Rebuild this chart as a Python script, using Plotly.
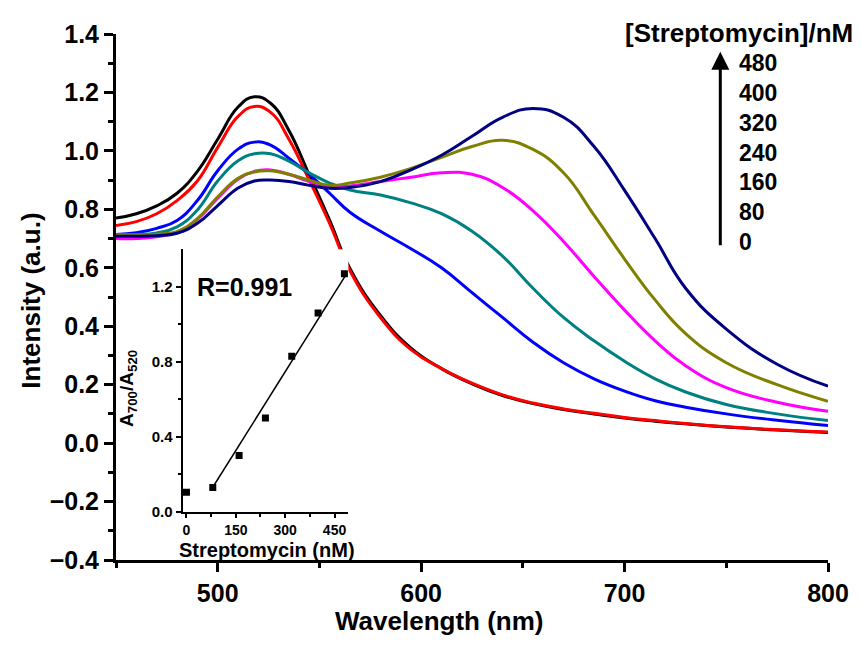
import plotly.graph_objects as go

# ---------------- data ----------------
wavelength = [450, 460, 470, 480, 490, 500, 510, 518, 526, 535, 545, 555, 565, 580,
              595, 610, 625, 640, 655, 670, 685, 700, 715, 730, 750, 775, 800]

int_0 = [0.77, 0.785, 0.812, 0.855, 0.93, 1.04, 1.15, 1.185, 1.163, 1.07, 0.918, 0.763, 0.598,
         0.437, 0.325, 0.255, 0.203, 0.163, 0.135, 0.115, 0.100, 0.086, 0.075, 0.066, 0.055,
         0.045, 0.036]
int_80 = [0.745, 0.758, 0.785, 0.83, 0.897, 1.012, 1.118, 1.152, 1.132, 1.04, 0.90, 0.752, 0.59,
          0.43, 0.32, 0.255, 0.205, 0.165, 0.137, 0.117, 0.102, 0.088, 0.077, 0.067, 0.056,
          0.046, 0.038]
int_160 = [0.714, 0.72, 0.735, 0.762, 0.83, 0.932, 1.006, 1.03, 1.02, 0.975, 0.92, 0.855, 0.79,
           0.725, 0.665, 0.60, 0.515, 0.43, 0.345, 0.275, 0.22, 0.178, 0.145, 0.123, 0.10,
           0.078, 0.06]
int_240 = [0.714, 0.714, 0.719, 0.74, 0.798, 0.897, 0.966, 0.99, 0.99, 0.965, 0.925, 0.89,
           0.866, 0.849, 0.822, 0.785, 0.725, 0.64, 0.53, 0.43, 0.35, 0.28, 0.22, 0.175, 0.132,
           0.10, 0.077]
int_320 = [0.70, 0.70, 0.706, 0.722, 0.766, 0.838, 0.903, 0.93, 0.935, 0.92, 0.895, 0.878, 0.88,
           0.895, 0.91, 0.925, 0.92, 0.875, 0.795, 0.69, 0.57, 0.455, 0.35, 0.265, 0.19, 0.14,
           0.109]
int_400 = [0.712, 0.712, 0.715, 0.724, 0.768, 0.843, 0.906, 0.928, 0.932, 0.92, 0.9, 0.882, 0.89,
           0.91, 0.94, 0.978, 1.015, 1.036, 1.005, 0.925, 0.78, 0.63, 0.49, 0.375, 0.275, 0.20,
           0.143]
int_480 = [0.708, 0.708, 0.71, 0.718, 0.752, 0.813, 0.873, 0.897, 0.90, 0.895, 0.882, 0.872,
           0.875, 0.895, 0.935, 0.985, 1.05, 1.115, 1.145, 1.115, 1.015, 0.865, 0.70, 0.53,
           0.39, 0.27, 0.195]

concentrations = [0, 80, 160, 240, 320, 400, 480]
spectra = [int_0, int_80, int_160, int_240, int_320, int_400, int_480]
colors = ["#000000", "#FF0000", "#0000FF", "#008080", "#FF00FF", "#808000", "#000080"]

# inset: A700/A520 ratio vs streptomycin, and its linear fit as drawn
ratio = [0.105, 0.13, 0.30, 0.50, 0.83, 1.06, 1.27]
fit_slope = 0.0028
fit_intercept = -0.093
fit_range = [80, 485]
r_text = "R=0.991"

FONT = "Liberation Sans, Arial, sans-serif"

fig = go.Figure()

for conc, ys, col in zip(concentrations, spectra, colors):
    fig.add_trace(go.Scatter(x=wavelength, y=ys, mode="lines",
                             line=dict(color=col, width=3, shape="spline", smoothing=1.3),
                             name=f"{conc} nM", showlegend=False,
                             xaxis="x", yaxis="y"))

line_y = [fit_slope * v + fit_intercept for v in fit_range]
fig.add_trace(go.Scatter(x=fit_range, y=line_y, mode="lines",
                         line=dict(color="black", width=1.5),
                         showlegend=False, xaxis="x2", yaxis="y2"))
fig.add_trace(go.Scatter(x=concentrations, y=ratio, mode="markers",
                         marker=dict(symbol="square", size=7, color="black"),
                         showlegend=False, xaxis="x2", yaxis="y2"))

# page offset of the figure inside the browser page
OFF_X, OFF_Y = 8, 12
W, H = 861 - OFF_X, 646 - OFF_Y
PL, PR, PT, PB = 116, 830, 29, 564   # plot area in page pixels
L, T = PL - OFF_X, PT - OFF_Y
R = 861 - PR
B = 646 - PB
PW, PH = PR - PL, PB - PT


def px_x(px):
    return (px - PL) / PW


def px_y(py):
    return (PB - py) / PH


axis_common = dict(showline=True, linecolor="black", linewidth=3, ticks="outside",
                   ticklen=9, tickwidth=3, tickcolor="black", showgrid=False,
                   zeroline=False, mirror=False,
                   tickfont=dict(family=FONT, size=25, color="black", weight="bold"))

fig.update_layout(
    width=W, height=H,
    margin=dict(l=L, r=R, t=T, b=B),
    plot_bgcolor="white", paper_bgcolor="white",
    showlegend=False,
    xaxis=dict(range=[450, 800], tick0=500, dtick=100,
               minor=dict(dtick=50, tick0=450, ticklen=5, tickwidth=3, tickcolor="black",
                          ticks="outside"),
               **axis_common),
    yaxis=dict(range=[-0.4, 1.4], tick0=-0.4, dtick=0.2, tickformat=".1f",
               minor=dict(dtick=0.1, ticklen=5, tickwidth=3, tickcolor="black",
                          ticks="outside"),
               **axis_common),
    xaxis2=dict(domain=[px_x(182.7), px_x(349)], anchor="y2", range=[-12, 492],
                tickvals=[0, 150, 300, 450],
                minor=dict(tickvals=[75, 225, 375], ticklen=3, tickwidth=1.5,
                           tickcolor="black", ticks="outside"),
                showline=True, linecolor="black", linewidth=2, ticks="outside",
                ticklen=4, tickwidth=2, tickcolor="black", showgrid=False, zeroline=False,
                tickfont=dict(family=FONT, size=14, color="black", weight="bold")),
    yaxis2=dict(domain=[px_y(515), px_y(248)], anchor="x2", range=[0, 1.4],
                tickvals=[0.0, 0.4, 0.8, 1.2], tickformat=".1f",
                minor=dict(tickvals=[0.2, 0.6, 1.0], ticklen=3, tickwidth=1.5,
                           tickcolor="black", ticks="outside"),
                showline=True, linecolor="black", linewidth=2, ticks="outside",
                ticklen=5, tickwidth=2, tickcolor="black", showgrid=False, zeroline=False,
                tickfont=dict(family=FONT, size=15, color="black", weight="bold")),
)


def text_ann(px, py, text, size, angle=0, xanchor="center"):
    return dict(x=px_x(px), y=px_y(py), xref="paper", yref="paper", text=text,
                showarrow=False, textangle=angle, xanchor=xanchor, yanchor="middle",
                font=dict(family=FONT, size=size, color="black", weight="bold"))


ann = []
ann.append(text_ann(440, 626, "Wavelength (nm)", 26))
ann.append(text_ann(31, 300, "Intensity (a.u.)", 26, angle=-90))
ann.append(text_ann(195, 286, r_text, 25, xanchor="left"))
ann.append(text_ann(128, 389, "A<sub>700</sub>/A<sub>520</sub>", 19, angle=-90))
ann.append(text_ann(267, 554, "Streptomycin (nM)", 20))
ann.append(text_ann(741, 28, "[Streptomycin]/nM", 26))
ann.append(dict(x=px_x(722), y=px_y(47), xref="paper", yref="paper", text="",
                showarrow=True, ax=0, ay=195, arrowhead=2, arrowsize=1.2,
                arrowwidth=3, arrowcolor="black"))
for i, conc in enumerate(reversed(concentrations)):
    ann.append(text_ann(739, 59 + i * 30.2, str(conc), 23, xanchor="left"))

fig.update_layout(annotations=ann)

fig.write_html("out.html")
